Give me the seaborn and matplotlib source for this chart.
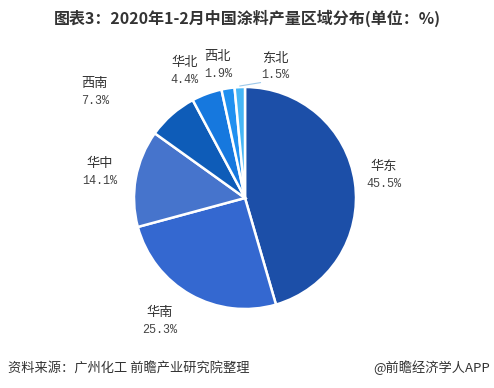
import numpy as np
import matplotlib
matplotlib.use("Agg")
import matplotlib.pyplot as plt
import seaborn as sns

# data
regions = ['华东', '华南', '华中', '西南', '华北', '西北', '东北']
shares = [45.5, 25.3, 14.1, 7.3, 4.4, 1.9, 1.5]
colors = ['#1c4fa8', '#3468d0', '#4674cc', '#0e5cb8', '#1678de', '#1f90f0', '#45b6f6']

# label placement (radius factor, angle nudge in degrees)
label_r = [1.27, 1.34, 1.33, 1.66, 1.27, 1.23, 1.22]
label_nudge = [1.5, -5.5, 0.0, 13.5, 5.3, 2.7, -15.5]

title = '图表3：2020年1-2月中国涂料产量区域分布(单位：%)'
source = '资料来源：广州化工 前瞻产业研究院整理'
brand = '@前瞻经济学人APP'

sns.set_theme(style="white")
plt.rcParams['font.family'] = ['Noto Sans CJK SC', 'DejaVu Sans']

fig = plt.figure(figsize=(4.94, 3.88), dpi=100)
ax = fig.add_axes([0, 0, 1, 1])

R = 111.0  # pie radius in px
cx, cy = 245.0, 198.0
wedges, _ = ax.pie(shares, colors=colors, startangle=90, counterclock=False,
                   radius=1.0, wedgeprops=dict(edgecolor='white', linewidth=1.8))
ax.set_xlim(-cx / R, (494 - cx) / R)
ax.set_ylim(-(388 - cy) / R, cy / R)
ax.set_aspect('auto')
ax.axis('off')

for i, w in enumerate(wedges):
    mid = (w.theta1 + w.theta2) / 2.0
    ang = np.deg2rad(mid + label_nudge[i])
    x = label_r[i] * np.cos(ang)
    y = label_r[i] * np.sin(ang)
    ax.text(x, y + 0.07, regions[i], ha='center', va='center',
            fontsize=9.5, color='#333333')
    ax.text(x, y - 0.085, f'{shares[i]:.1f}%', ha='center', va='center',
            fontsize=8.5, color='#444444', family=['Liberation Mono', 'DejaVu Sans'])
    if regions[i] == '东北':
        a0 = np.deg2rad(mid)
        ax.plot([np.cos(a0) * 1.01, x - 0.13], [np.sin(a0) * 1.01, y - 0.15],
                color='#9cc8ea', lw=0.8)

fig.text(0.5, 1 - 18 / 388, title, ha='center', va='center',
         fontsize=11.5, fontweight='bold', color='#333333')
fig.text(8 / 494, 1 - 368 / 388, source, ha='left', va='center',
         fontsize=9.5, color='#333333')
fig.text(490 / 494, 1 - 368 / 388, brand, ha='right', va='center',
         fontsize=9.5, color='#333333')

fig.savefig('out.png', dpi=100)
